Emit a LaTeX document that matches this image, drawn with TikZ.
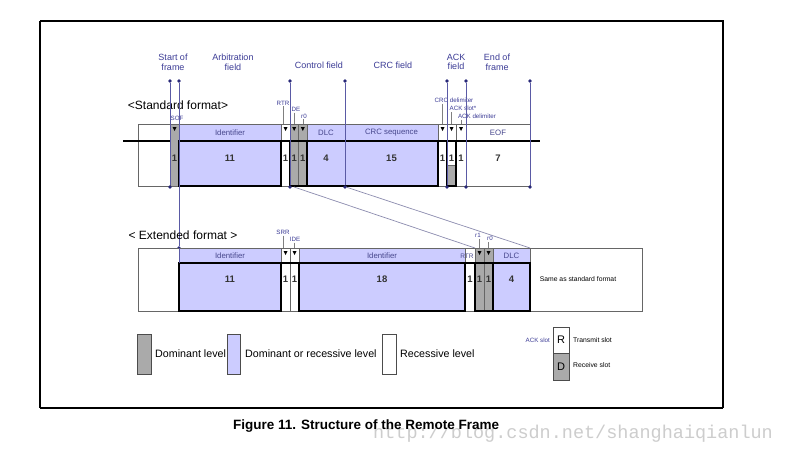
\documentclass[tikz,border=0pt]{standalone}
\usepackage{fontspec}
\setmainfont{Liberation Sans}
\newfontfamily\wmfont{Liberation Mono}
\definecolor{lavc}{RGB}{204,204,255}
\definecolor{domc}{RGB}{170,170,170}
\definecolor{lblc}{RGB}{60,60,150}
\definecolor{mkc}{RGB}{90,90,165}
\definecolor{dotclr}{RGB}{40,40,120}
\definecolor{hdrc}{RGB}{70,70,140}
\definecolor{diagc}{RGB}{140,140,175}
\definecolor{wmc}{RGB}{205,205,205}
\newcommand\bitarr[2]{\fill[black] (#1-2,#2) -- (#1+2,#2) -- (#1,#2+4) -- cycle;}
\tikzset{
  lav/.style={fill=lavc, draw=black!60, line width=0.5pt},
  dom/.style={fill=domc, draw=black!60, line width=0.5pt},
  rec/.style={fill=white, draw=black!60, line width=0.5pt},
  thk/.style={line width=1.8pt, draw=black},
  markline/.style={draw=mkc, line width=0.7pt},
  mdot/.style={circle, fill=dotclr, inner sep=0pt, minimum size=3.6pt},
  toplbl/.style={text=lblc, font=\fontsize{9}{9.6}\selectfont, align=center, inner sep=0pt},
  hdr/.style={text=hdrc, font=\fontsize{7.8}{7.8}\selectfont, inner sep=0pt},
  smlbl/.style={text=lblc, font=\fontsize{6.2}{6.2}\selectfont, inner sep=0pt},
  num/.style={font=\fontsize{9.5}{9.5}\selectfont\bfseries, text=black!80, inner sep=0pt},
  leader/.style={draw=black!50, line width=0.4pt},
  legtxt/.style={font=\fontsize{10.7}{10.7}\selectfont, anchor=west, inner sep=0pt},
  keytxt/.style={font=\fontsize{6.8}{6.8}\selectfont, anchor=west, inner sep=0pt},
  diagline/.style={draw=diagc, line width=0.7pt}
}
\begin{document}
\begin{tikzpicture}[x=1pt,y=-1pt]
\useasboundingbox (0,0) rectangle (793,458);
\fill[white] (0,0) rectangle (793,458);
% outer frame
\draw[line width=1.4pt] (40,21) -- (723,21) -- (723,408);
\draw[line width=1.4pt] (40,21) -- (40,408);
\draw[line width=2pt] (40,408) -- (723,408);

% ---------- Standard format ----------
\node[font=\fontsize{12}{12}\selectfont, inner sep=0pt] (stdlbl) at (178,105) {<Standard format>};
\draw[rec] (138,124) rectangle (530,186);
\draw[rec] (466,124) rectangle (530,141);
\draw[dom] (170,124) rectangle (179,186);
\draw[lav] (179,124) rectangle (281,141);
\draw[lav] (179,141) rectangle (281,186);
\draw[rec] (281,124) rectangle (290,186);
\draw[dom] (290,124) rectangle (298.5,186);
\draw[dom] (298.5,124) rectangle (307,186);
\draw[lav] (307,124) rectangle (345,141);
\draw[lav] (307,141) rectangle (345,186);
\draw[lav] (345,124) rectangle (438,141);
\draw[lav] (345,141) rectangle (438,186);
\draw[rec] (438,124) rectangle (447,186);
\draw[rec] (447,124) rectangle (456,186);
\draw[dom] (447,165) rectangle (456,186);
\draw[rec] (456,124) rectangle (466,186);
% waveform
\draw[thk] (123,141) -- (170,141);
\draw[thk] (179,141) rectangle (281,186);
\draw[thk] (281,141) -- (290,141);
\draw[thk] (290,141) rectangle (307,186);
\draw[thk] (307,141) rectangle (438,186);
\draw[thk] (438,141) -- (447,141);
\draw[thk] (447,141) rectangle (456,186);
\draw[thk] (456,141) -- (540,141);
% bit arrows
\bitarr{174.5}{127}
\bitarr{285.5}{127}
\bitarr{294.2}{127}
\bitarr{302.8}{127}
\bitarr{442.5}{127}
\bitarr{451.5}{127}
\bitarr{461}{127}
% header texts
\node[hdr] (sid) at (230,132.5) {Identifier};
\node[hdr] (sdlc) at (326,132.5) {DLC};
\node[hdr] (scrc) at (391.5,132.5) {CRC sequence};
\node[hdr] (seof) at (498,132.5) {EOF};
% numbers
\node[num] (n1) at (174.5,158) {1};
\node[num] (n2) at (230,158) {11};
\node[num] (n3) at (285.5,158) {1};
\node[num] (n4) at (294.2,158) {1};
\node[num] (n5) at (302.8,158) {1};
\node[num] (n6) at (326,158) {4};
\node[num] (n7) at (391.5,158) {15};
\node[num] (n8) at (442.5,158) {1};
\node[num] (n9) at (451.5,158) {1};
\node[num] (n10) at (461,158) {1};
\node[num] (n11) at (498,158) {7};
% small labels
\node[smlbl] (lsof) at (177,118) {SOF};
\node[smlbl] (lrtr) at (283,103) {RTR};
\node[smlbl] (lide) at (295,109.5) {IDE};
\node[smlbl] (lr0) at (304,116) {r0};
\node[smlbl] (lcrcd) at (454,100) {CRC delimiter};
\node[smlbl] (lack) at (463,108.5) {ACK slot*};
\node[smlbl] (lackd) at (477,116) {ACK delimiter};
\draw[leader] (283,106) -- (283,124);
\draw[leader] (294.2,112.5) -- (294.2,124);
\draw[leader] (302.8,119) -- (302.8,124);
\draw[leader] (442.5,103.5) -- (442.5,124);
\draw[leader] (451.5,112) -- (451.5,124);
\draw[leader] (461,119.5) -- (461,124);
% top labels
\node[toplbl] (tsof) at (173,62) {Start of\\frame};
\node[toplbl] (tarb) at (233,62) {Arbitration\\field};
\node[toplbl] (tctl) at (319,65) {Control field};
\node[toplbl] (tcrc) at (393,65) {CRC field};
\node[toplbl] (tack) at (456,62) {ACK\\field};
\node[toplbl] (teof) at (497,62) {End of\\frame};
% marker lines
\foreach \xx/\nm in {170/a,290/c,345/d,447/e,466/f,530/g}{
  \node[mdot] (top\nm) at (\xx,81) {};
  \node[mdot] (bot\nm) at (\xx,187) {};
  \draw[markline] (top\nm) -- (bot\nm);
}
\node[mdot] (topb) at (179,81) {};
\node[mdot] (botb) at (179,248) {};
\draw[markline] (topb) -- (botb);

% diagonal lines
\coordinate (dgA1) at (294,187);
\coordinate (dgA2) at (475,248);
\coordinate (dgB1) at (346,187);
\coordinate (dgB2) at (530,248);
\draw[diagline] (dgA1) -- (dgA2);
\draw[diagline] (dgB1) -- (dgB2);

% ---------- Extended format ----------
\node[font=\fontsize{12}{12}\selectfont, inner sep=0pt] (extlbl) at (183,235) {< Extended format >};
\draw[rec] (138,248) rectangle (642,311);
\draw[lav] (179,248) rectangle (281,263);
\draw[lav] (179,263) rectangle (281,311);
\draw[rec] (281,248) rectangle (290,311);
\draw[rec] (290,248) rectangle (299,311);
\draw[lav] (299,248) rectangle (465,263);
\draw[lav] (299,263) rectangle (465,311);
\draw[rec] (465,248) rectangle (475,311);
\draw[dom] (475,248) rectangle (484,311);
\draw[dom] (484,248) rectangle (493,311);
\draw[lav] (493,248) rectangle (530,263);
\draw[lav] (493,263) rectangle (530,311);
\draw[thk] (179,263) rectangle (281,311);
\draw[thk] (281,263) -- (299,263);
\draw[thk] (299,263) rectangle (465,311);
\draw[thk] (465,263) -- (475,263);
\draw[thk] (475,263) rectangle (493,311);
\draw[thk] (493,263) rectangle (530,311);
\draw[markline] (179,248) -- (179,263);
\bitarr{285.5}{251}
\bitarr{294.5}{251}
\bitarr{479.5}{251}
\bitarr{488.5}{251}
\node[hdr] (eid1) at (230,256) {Identifier};
\node[hdr] (eid2) at (382,256) {Identifier};
\node[hdr, font=\fontsize{6.5}{6.5}\selectfont] (ertr) at (467,256) {RTR};
\node[hdr] (edlc) at (511.5,256) {DLC};
\node[smlbl] (lsrr) at (283,232) {SRR};
\node[smlbl] (lide2) at (295,239) {IDE};
\node[smlbl] (lr1) at (478,235) {r1};
\node[smlbl] (lr02) at (490,238.5) {r0};
\draw[leader] (283,235.5) -- (283,248);
\draw[leader] (294.5,242.5) -- (294.5,248);
\draw[leader] (479.5,238.5) -- (479.5,248);
\draw[leader] (488.5,242) -- (488.5,248);
\node[num] (m1) at (230,279) {11};
\node[num] (m2) at (285.5,279) {1};
\node[num] (m3) at (294.5,279) {1};
\node[num] (m4) at (382,279) {18};
\node[num] (m5) at (470,279) {1};
\node[num] (m6) at (479.5,279) {1};
\node[num] (m7) at (488.5,279) {1};
\node[num] (m8) at (511.5,279) {4};
\node[font=\fontsize{6.8}{6.8}\selectfont, inner sep=0pt] (same) at (578,279) {Same as standard format};

% ---------- Legend ----------
\draw[dom, draw=black!70] (137,334) rectangle (151,374);
\node[legtxt] (ldom) at (155,354) {Dominant level};
\draw[lav, draw=black!70] (227,334) rectangle (240,374);
\node[legtxt] (llav) at (245,354) {Dominant or recessive level};
\draw[rec, draw=black!70] (382,334) rectangle (396,374);
\node[legtxt] (lrec) at (400,354) {Recessive level};
\draw[rec, draw=black!70, line width=0.8pt] (553,327) rectangle (569,353);
\draw[dom, draw=black!70, line width=0.8pt] (553,353) rectangle (569,380);
\node[font=\fontsize{11}{11}\selectfont, inner sep=0pt] (lR) at (561,340) {R};
\node[font=\fontsize{11}{11}\selectfont, inner sep=0pt] (lD) at (561,366.5) {D};
\node[smlbl, anchor=east] (lackslot) at (550,340) {ACK slot};
\node[keytxt] (ltx) at (573,340) {Transmit slot};
\node[keytxt] (lrx) at (573,365) {Receive slot};

% ---------- Caption ----------
\node[text=wmc, font=\wmfont\fontsize{18.5}{18.5}\selectfont, anchor=west, inner sep=0pt] (wm) at (373,434) {http://blog.csdn.net/shanghaiqianlun};
\node[font=\fontsize{13.5}{13.5}\selectfont\bfseries, anchor=west, inner sep=0pt] (cap) at (233,426) {Figure 11. Structure of the Remote Frame};
\end{tikzpicture}
\end{document}
